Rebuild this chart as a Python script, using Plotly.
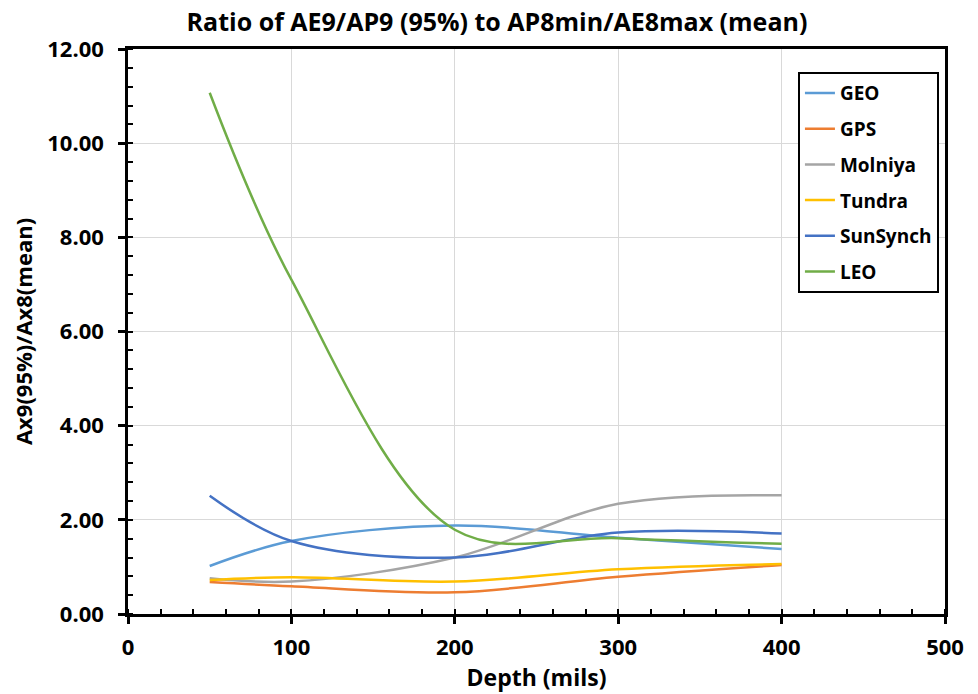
import plotly.graph_objects as go

depth = [50, 100, 200, 300, 400]
series_names = ["GEO", "GPS", "Molniya", "Tundra", "SunSynch", "LEO"]
geo = [1.02, 1.55, 1.88, 1.62, 1.38]
gps = [0.68, 0.59, 0.46, 0.79, 1.04]
molniya = [0.76, 0.69, 1.20, 2.34, 2.52]
tundra = [0.72, 0.78, 0.69, 0.95, 1.06]
sunsynch = [2.51, 1.55, 1.20, 1.73, 1.71]
leo = [11.07, 7.10, 1.79, 1.61, 1.49]
colors = ["#5B9BD5", "#ED7D31", "#A5A5A5", "#FFC000", "#4472C4", "#70AD47"]
values = [geo, gps, molniya, tundra, sunsynch, leo]

FONT = "Open Sans"

fig = go.Figure()
for name, vals, col in zip(series_names, values, colors):
    fig.add_trace(go.Scatter(
        x=depth, y=vals, name="<b>" + name + "</b>", mode="lines",
        line=dict(color=col, width=2.5, shape="spline", smoothing=1.0),
        legendgroup=name,
    ))

axis_common = dict(
    showline=True, linecolor="black", linewidth=2.5, mirror=True,
    showgrid=True, gridcolor="#d9d9d9", gridwidth=1,
    ticks="outside", ticklen=7, tickwidth=2.5, tickcolor="black",
    zeroline=False,
    tickfont=dict(family=FONT, size=22, color="black"),
)

xticks = [0, 100, 200, 300, 400, 500]
yticks = [0, 2, 4, 6, 8, 10, 12]

fig.update_xaxes(
    range=[0, 500], tickvals=xticks, ticktext=["<b>%d</b>" % v for v in xticks],
    ticklabelstandoff=5,
    title=dict(text="<b>Depth (mils)</b>", font=dict(family=FONT, size=23, color="black"), standoff=6),
    minor=dict(dtick=20, tick0=0, ticks="inside", ticklen=5, tickwidth=2, tickcolor="black", showgrid=False),
    **axis_common,
)
fig.update_yaxes(
    range=[0, 12], tickvals=yticks, ticktext=["<b>%.2f</b>" % v for v in yticks],
    ticklabelstandoff=10,
    title=dict(text="<b>Ax9(95%)/Ax8(mean)</b>", font=dict(family=FONT, size=22, color="black"), standoff=12),
    minor=dict(dtick=0.4, tick0=0, ticks="inside", ticklen=5, tickwidth=2, tickcolor="black", showgrid=False),
    **axis_common,
)

fig.update_layout(
    width=978, height=694,
    margin=dict(l=120, r=41, t=41, b=88),
    paper_bgcolor="white", plot_bgcolor="white",
    title=dict(text="<b>Ratio of AE9/AP9 (95%) to AP8min/AE8max (mean)</b>", x=0.5, xanchor="center",
               y=0.98, yanchor="middle",
               font=dict(family=FONT, size=25, color="black")),
    legend=dict(
        x=0.820, y=0.959, xanchor="left", yanchor="top",
        bordercolor="black", borderwidth=2, bgcolor="white",
        font=dict(family=FONT, size=19, color="black"),
        tracegroupgap=8, traceorder="grouped",
        itemwidth=30,
    ),
    showlegend=True,
)

fig.write_html("out.html")
